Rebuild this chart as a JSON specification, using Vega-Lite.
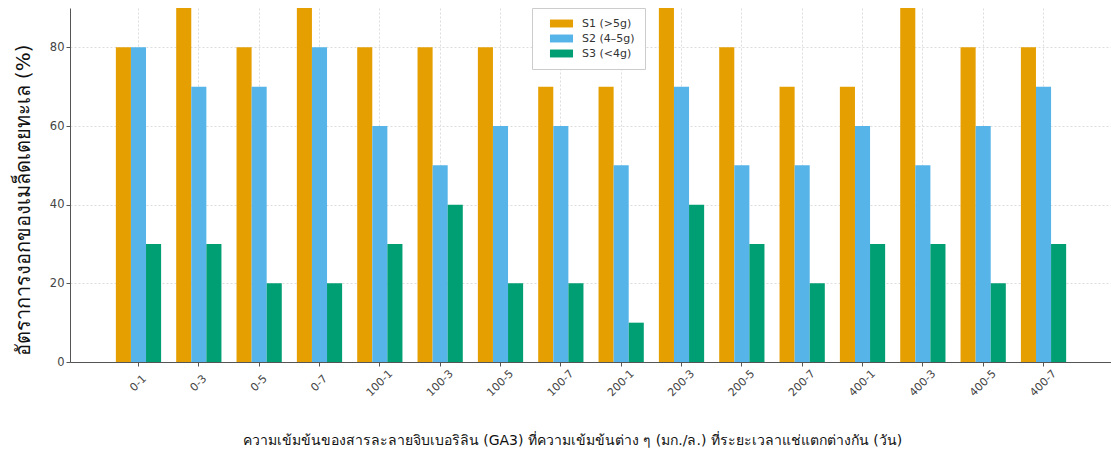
{
  "$schema": "https://vega.github.io/schema/vega-lite/v6.json",
  "width": 1042,
  "height": 354,
  "autosize": {"type": "none"},
  "padding": {"left": 70, "top": 8, "right": 0, "bottom": 94},
  "config": {
    "view": {"stroke": null},
    "font": "DejaVu Sans",
    "axis": {"domainColor": "#555555", "tickColor": "#555555", "labelColor": "#444444", "gridColor": "#dddddd", "gridDash": [2, 2]}
  },
  "data": {
    "values": [
      {"cat": "0-1", "s": "S1 (>5g)", "v": 80}, {"cat": "0-1", "s": "S2 (4–5g)", "v": 80}, {"cat": "0-1", "s": "S3 (<4g)", "v": 30},
      {"cat": "0-3", "s": "S1 (>5g)", "v": 90}, {"cat": "0-3", "s": "S2 (4–5g)", "v": 70}, {"cat": "0-3", "s": "S3 (<4g)", "v": 30},
      {"cat": "0-5", "s": "S1 (>5g)", "v": 80}, {"cat": "0-5", "s": "S2 (4–5g)", "v": 70}, {"cat": "0-5", "s": "S3 (<4g)", "v": 20},
      {"cat": "0-7", "s": "S1 (>5g)", "v": 90}, {"cat": "0-7", "s": "S2 (4–5g)", "v": 80}, {"cat": "0-7", "s": "S3 (<4g)", "v": 20},
      {"cat": "100-1", "s": "S1 (>5g)", "v": 80}, {"cat": "100-1", "s": "S2 (4–5g)", "v": 60}, {"cat": "100-1", "s": "S3 (<4g)", "v": 30},
      {"cat": "100-3", "s": "S1 (>5g)", "v": 80}, {"cat": "100-3", "s": "S2 (4–5g)", "v": 50}, {"cat": "100-3", "s": "S3 (<4g)", "v": 40},
      {"cat": "100-5", "s": "S1 (>5g)", "v": 80}, {"cat": "100-5", "s": "S2 (4–5g)", "v": 60}, {"cat": "100-5", "s": "S3 (<4g)", "v": 20},
      {"cat": "100-7", "s": "S1 (>5g)", "v": 70}, {"cat": "100-7", "s": "S2 (4–5g)", "v": 60}, {"cat": "100-7", "s": "S3 (<4g)", "v": 20},
      {"cat": "200-1", "s": "S1 (>5g)", "v": 70}, {"cat": "200-1", "s": "S2 (4–5g)", "v": 50}, {"cat": "200-1", "s": "S3 (<4g)", "v": 10},
      {"cat": "200-3", "s": "S1 (>5g)", "v": 90}, {"cat": "200-3", "s": "S2 (4–5g)", "v": 70}, {"cat": "200-3", "s": "S3 (<4g)", "v": 40},
      {"cat": "200-5", "s": "S1 (>5g)", "v": 80}, {"cat": "200-5", "s": "S2 (4–5g)", "v": 50}, {"cat": "200-5", "s": "S3 (<4g)", "v": 30},
      {"cat": "200-7", "s": "S1 (>5g)", "v": 70}, {"cat": "200-7", "s": "S2 (4–5g)", "v": 50}, {"cat": "200-7", "s": "S3 (<4g)", "v": 20},
      {"cat": "400-1", "s": "S1 (>5g)", "v": 70}, {"cat": "400-1", "s": "S2 (4–5g)", "v": 60}, {"cat": "400-1", "s": "S3 (<4g)", "v": 30},
      {"cat": "400-3", "s": "S1 (>5g)", "v": 90}, {"cat": "400-3", "s": "S2 (4–5g)", "v": 50}, {"cat": "400-3", "s": "S3 (<4g)", "v": 30},
      {"cat": "400-5", "s": "S1 (>5g)", "v": 80}, {"cat": "400-5", "s": "S2 (4–5g)", "v": 60}, {"cat": "400-5", "s": "S3 (<4g)", "v": 20},
      {"cat": "400-7", "s": "S1 (>5g)", "v": 80}, {"cat": "400-7", "s": "S2 (4–5g)", "v": 70}, {"cat": "400-7", "s": "S3 (<4g)", "v": 30}
    ]
  },
  "mark": {"type": "bar", "clip": true},
  "encoding": {
    "x": {
      "field": "cat", "type": "nominal", "sort": null,
      "scale": {"paddingInner": 0.25, "paddingOuter": 0.76},
      "axis": {
        "title": "ความเข้มข้นของสารละลายจิบเบอริลิน (GA3) ที่ความเข้มข้นต่าง ๆ (มก./ล.) ที่ระยะเวลาแช่แตกต่างกัน (วัน)",
        "titleFontSize": 14, "titleFontWeight": "normal", "titleColor": "#111111", "titlePadding": 36, "titleX": 502,
        "labelAngle": -45, "labelAlign": "center", "labelBaseline": "middle", "labelPadding": 17, "labelFontSize": 11,
        "grid": true, "tickSize": 4
      }
    },
    "xOffset": {"field": "s", "type": "nominal", "sort": null},
    "y": {
      "field": "v", "type": "quantitative",
      "scale": {"domain": [0, 90], "nice": false},
      "axis": {
        "title": "อัตราการงอกของเมล็ดเตยทะเล  (%)", "titleFontSize": 20, "titleFontWeight": "normal", "titleColor": "#111111",
        "titlePadding": 16, "titleY": 192, "values": [0, 20, 40, 60, 80], "labelFontSize": 11.5, "tickSize": 4, "grid": true
      }
    },
    "color": {
      "field": "s", "type": "nominal", "sort": null,
      "scale": {"domain": ["S1 (>5g)", "S2 (4–5g)", "S3 (<4g)"], "range": ["#E69F00", "#56B4E9", "#009E73"]},
      "legend": {
        "title": null, "orient": "none", "legendX": 462, "legendY": 0,
        "fillColor": "white", "strokeColor": "#cccccc", "padding": 10,
        "symbolType": "M-3.2,-1.1L3.2,-1.1L3.2,1.1L-3.2,1.1Z", "symbolSize": 52, "symbolStrokeWidth": 0,
        "symbolOffset": 14, "labelFontSize": 11, "labelColor": "#333333", "labelOffset": 15, "rowPadding": 3
      }
    }
  }
}
